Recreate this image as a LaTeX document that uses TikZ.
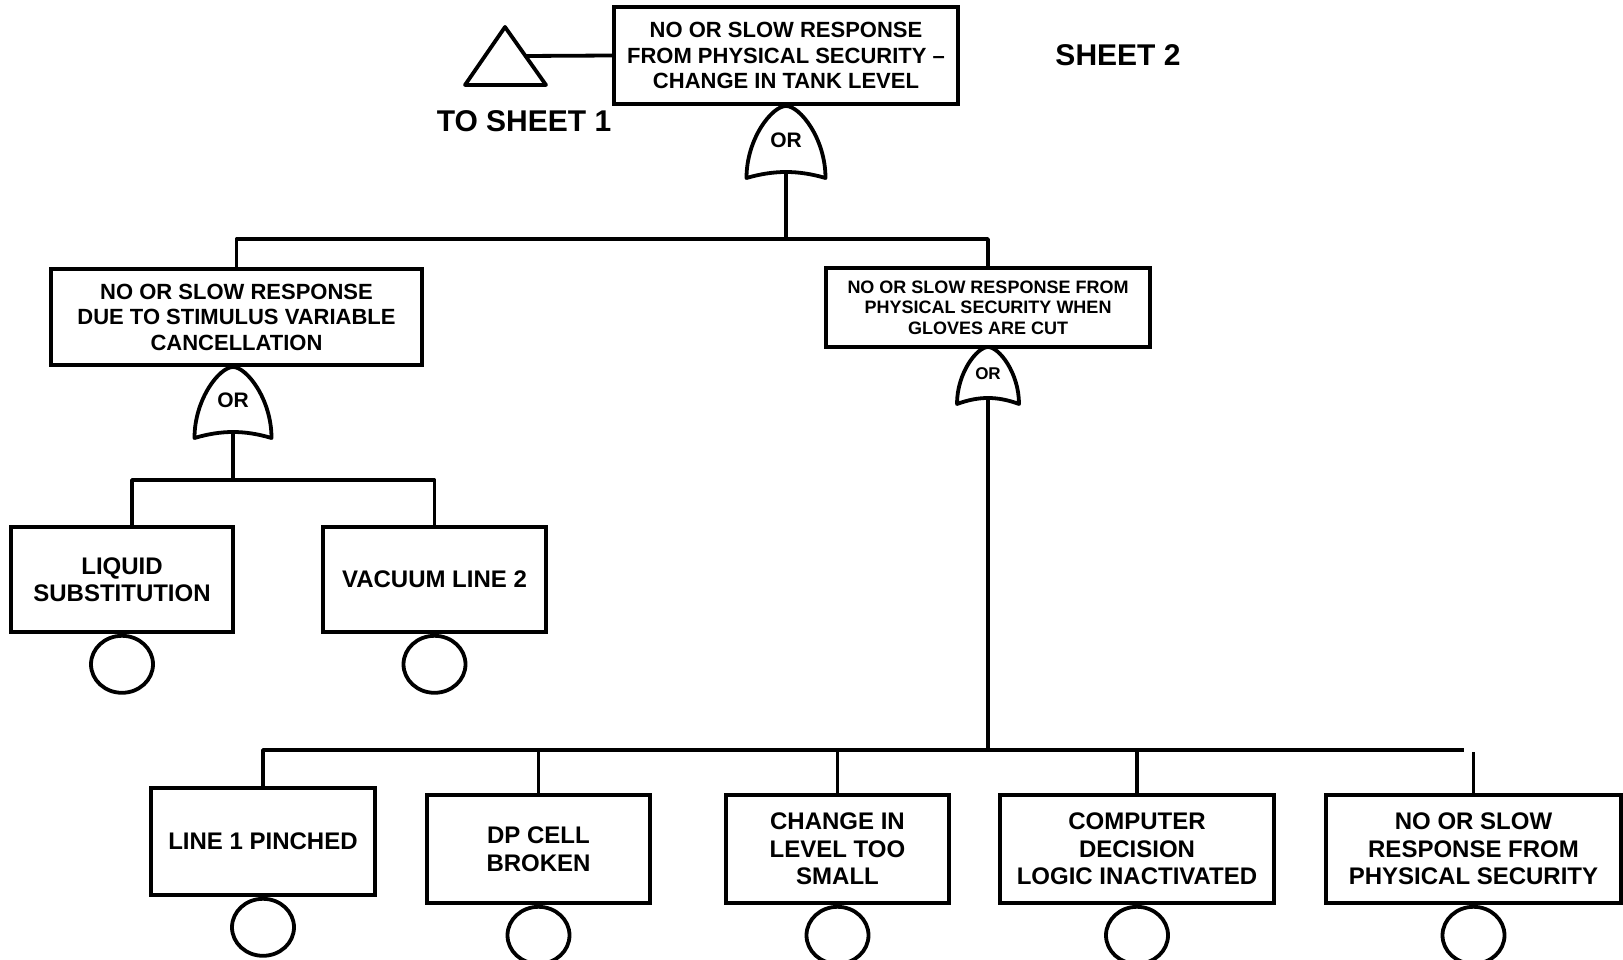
\documentclass[tikz,border=0pt]{standalone}
\usepackage{fontspec}
\setmainfont{Liberation Sans}
\usetikzlibrary{shapes.geometric,positioning,calc}

\tikzset{
  ln/.style={line width=3.8pt, line join=round},
  basebox/.style={draw, ln, line join=miter, rectangle, align=center, inner sep=0pt},
  gatebox/.style={basebox, font=\fontsize{22}{25.5}\selectfont\bfseries},
  subbox/.style={basebox, font=\fontsize{18}{20.5}\selectfont\bfseries},
  leafbox/.style={basebox, font=\fontsize{24}{27.5}\selectfont\bfseries,
                  minimum height=107pt},
  event/.style={draw, ln, ellipse, minimum width=62pt, minimum height=57pt,
                inner sep=0pt},
  sheetlbl/.style={font=\fontsize{30}{34}\selectfont\bfseries, inner sep=0pt},
  % OR gate: #1 half width, #2 height, #3 label font size
  pics/orgate/.style n args={3}{code={
    \draw[ln] (-#1,#2) .. controls (-#1,0.45*#2) and (-0.35*#1,0) .. (0,0)
      .. controls (0.35*#1,0) and (#1,0.45*#2) .. (#1,#2)
      .. controls (0.3*#1,#2-8) and (-0.3*#1,#2-8) .. cycle;
    \coordinate (-top) at (0,0);
    \coordinate (-bot) at (0,#2-6);
    \node[font=\fontsize{#3}{#3}\selectfont\bfseries, inner sep=0pt]
      (-lbl) at (0,0.47*#2) {OR};
  }},
}

\begin{document}
\begin{tikzpicture}[x=1pt,y=-1pt]
\useasboundingbox (0,0) rectangle (1623,960);

% top event and transfer symbol
\node[gatebox, minimum width=344pt, minimum height=97pt] (top) at (786,55.5)
  {NO OR SLOW RESPONSE\\FROM PHYSICAL SECURITY –\\CHANGE IN TANK LEVEL};
\coordinate (tA) at (505,27);
\coordinate (tB) at (465,85);
\coordinate (tC) at (546,85);
\draw[ln] (tA) -- (tB) -- (tC) -- cycle;
\coordinate (tri) at ($(tA)!0.5!(tC)$);
\draw[ln] (tri) -- (top.west);
\node[sheetlbl, anchor=base] (to1) at (524,132) {TO SHEET 1};
\node[sheetlbl, anchor=base] (sh2) at (1118,66) {SHEET 2};

\pic (g0) at (786,106) {orgate={39.5}{72}{21}};

% second level
\node[gatebox, minimum width=371pt, minimum height=96pt] (m1) at (236.5,317)
  {NO OR SLOW RESPONSE\\DUE TO STIMULUS VARIABLE\\CANCELLATION};
\node[subbox, minimum width=324pt, minimum height=79pt] (m2) at (988,307.5)
  {NO OR SLOW RESPONSE FROM\\PHYSICAL SECURITY WHEN\\GLOVES ARE CUT};

\coordinate (bar0) at (0,239);
\draw[ln] (g0-bot) -- (g0-bot |- bar0);
\draw[ln] (m1.north) -- (m1.north |- bar0) -- (m2.north |- bar0) -- (m2.north);

\pic (g1) at (233,367) {orgate={38.5}{71}{21}};
\pic (g2) at (988,347) {orgate={31}{57}{17}};

% left branch
\node[leafbox, minimum width=222pt, minimum height=105pt] (liq) at (122,579.5)
  {LIQUID\\SUBSTITUTION};
\node[leafbox, minimum width=223pt, minimum height=105pt] (vac) at (434.5,579.5)
  {VACUUM LINE 2};
\coordinate (bar1) at (0,480);
\draw[ln] (g1-bot) -- (g1-bot |- bar1);
\draw[ln] ([xshift=10pt]liq.north) -- ([xshift=10pt]liq.north |- bar1)
  -- (vac.north |- bar1) -- (vac.north);
\node[event, below=0pt of liq] (eliq) {};
\node[event, below=0pt of vac] (evac) {};

% right branch
\node[leafbox, minimum width=224pt] (l1) at (263,841.5) {LINE 1 PINCHED};
\node[leafbox, minimum width=223pt, minimum height=108pt] (dp) at (538.5,849)
  {DP CELL\\BROKEN};
\node[leafbox, minimum width=223pt, minimum height=108pt] (ch) at (837.5,849)
  {CHANGE IN\\LEVEL TOO\\SMALL};
\node[leafbox, minimum width=274pt, minimum height=108pt] (cp) at (1137,849)
  {COMPUTER\\DECISION\\LOGIC INACTIVATED};
\node[leafbox, minimum width=295pt, minimum height=108pt] (ns) at (1473.5,849)
  {NO OR SLOW\\RESPONSE FROM\\PHYSICAL SECURITY};

\coordinate (bar2) at (0,750);
\coordinate (bar2end) at (1464,750);
\coordinate (bar2b) at (0,752);
\draw[ln] (g2-bot) -- (g2-bot |- bar2);
\draw[ln] (l1.north) -- (l1.north |- bar2) -- (bar2end);
\draw[ln] (dp.north) -- (dp.north |- bar2);
\draw[ln] (ch.north) -- (ch.north |- bar2);
\draw[ln] (cp.north) -- (cp.north |- bar2);
\draw[ln] (ns.north) -- (ns.north |- bar2b);

\node[event, below=0pt of l1] (el1) {};
\node[event, below=0pt of dp] (edp) {};
\node[event, below=0pt of ch] (ech) {};
\node[event, below=0pt of cp] (ecp) {};
\node[event, below=0pt of ns] (ens) {};
\end{tikzpicture}
\end{document}
